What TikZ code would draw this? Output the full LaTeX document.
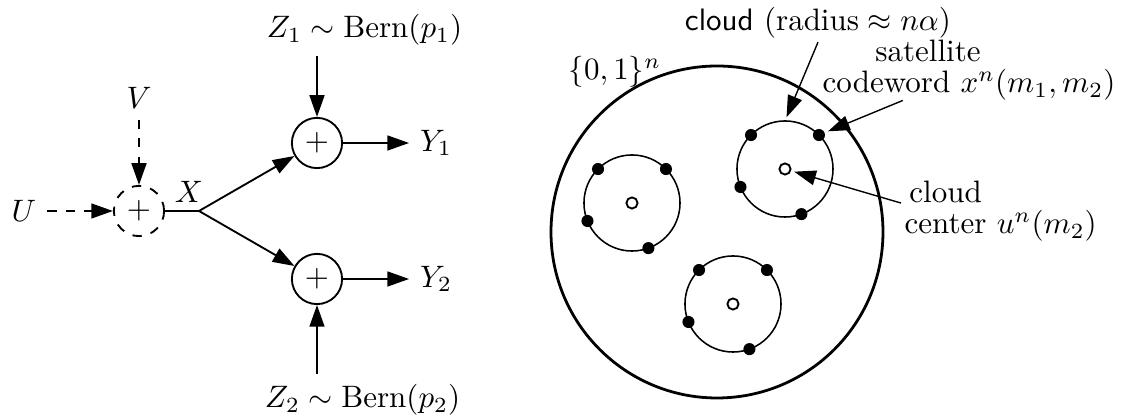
\documentclass[tikz,border=0pt]{standalone}
\usepackage{amsmath}
\usepackage{tikz}
\usetikzlibrary{arrows.meta, positioning, calc}

\begin{document}
\begin{tikzpicture}[x=0.01134cm, y=0.01134cm,
  >={Triangle[length=7pt,width=4.8pt]},
  adder/.style={circle, draw, semithick, minimum size=16.2pt, inner sep=0pt},
  wire/.style={semithick},
  lbl/.style={inner sep=1pt},
  ring/.style={circle, draw, line width=0.5pt, minimum size=1.089cm, inner sep=0pt, outer sep=0pt},
  codept/.style={circle, fill, minimum size=3.9pt, inner sep=0pt},
  centerpt/.style={circle, draw, fill=white, line width=0.6pt, minimum size=3.6pt, inner sep=0pt},
  pointer/.style={->, line width=0.45pt, shorten >=1pt}]
  \useasboundingbox (0,0) rectangle (1124,419);

  % Superposition: U and V give X
  \node (U) at (24,208) {$U$};
  \node (V) at (139,321) {$V$};
  \node[adder, dashed] (mix) at (139,208) {$+$};
  \coordinate (split) at (199,208);
  \node (X) at (189,227) {$X$};
  \draw[wire, dashed, ->] (U) -- (mix);
  \draw[wire, dashed, ->] (V) -- (mix);
  \draw[wire] (mix) -- (split);

  % Two binary symmetric channels
  \node[adder] (add1) at (317,276) {$+$};
  \node[adder] (add2) at (317,140) {$+$};
  \draw[wire, ->] (split) -- (add1);
  \draw[wire, ->] (split) -- (add2);
  \node[anchor=west] (Z1) at (256,389) {$Z_1 \sim \mathrm{Bern}(p_1)$};
  \node[anchor=west] (Z2) at (254,19) {$Z_2 \sim \mathrm{Bern}(p_2)$};
  \draw[wire, ->] (Z1.south -| add1) -- (add1);
  \draw[wire, ->] (Z2.north -| add2) -- (add2);
  \node (Y1) at (436,276) {$Y_1$};
  \node (Y2) at (436,140) {$Y_2$};
  \draw[wire, ->] (add1) -- (Y1);
  \draw[wire, ->] (add2) -- (Y2);

  % Space {0,1}^n with its clouds
  \draw[line width=0.9pt] (717,187) circle[radius=166];
  \node (space) at (615,347) {$\{0,1\}^n$};
  \foreach \name/\x/\y in {A/785/250, B/632/216, C/733/115} {
    \node[ring] (\name) at (\x,\y) {};
    \node[centerpt] (\name-c) at (\name.center) {};
    \foreach \a [count=\i] in {45,135,202,290}
      \node[codept] (\name\i) at (\name.\a) {};
  }

  % Labels
  \node[lbl] (cloudlbl) at (818,396) {\textsf{cloud} $(\text{radius} \approx n\alpha)$};
  \node[lbl, align=left, anchor=south west] (sat) at (819,315)
    {\hspace*{17pt}satellite\\[-2pt]codeword $x^n(m_1,m_2)$};
  \node[lbl, anchor=west] (ctr) at (901,208)
    {\begin{tabular}[b]{@{}c@{}}cloud\\[-2pt]center\end{tabular}~$u^n(m_2)$};
  \draw[pointer, shorten >=1.3pt] (cloudlbl.south) -- (A.north);
  \draw[pointer] ([xshift=0.95cm, yshift=0.04cm]sat.south west) -- (A1);
  \draw[pointer] ([yshift=0.09cm]ctr.west) -- (A-c);
\end{tikzpicture}
\end{document}
